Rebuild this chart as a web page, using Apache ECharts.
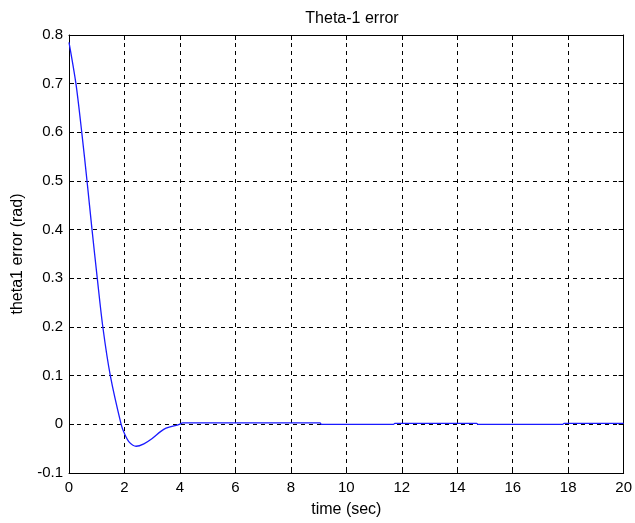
<!DOCTYPE html>
<html>
<head>
<meta charset="utf-8">
<script src="https://cdn.jsdelivr.net/npm/echarts@6/dist/echarts.min.js"></script>
<style>
  html, body { margin: 0; padding: 0; background: #fff; }
  #main { width: 635px; height: 523px; }
</style>
</head>
<body>
<div id="main"></div>
<script>
// time (sec) and theta1 error (rad)
const timeSec = [0, 0.25, 0.46, 0.65, 0.83, 1.02, 1.22, 1.49, 1.88, 2.0, 2.18, 2.42, 2.7, 3.0, 3.3, 3.5, 3.98, 4.1, 9.05, 9.1, 11.7, 11.75, 14.7, 14.75, 17.8, 17.85, 20]
const thetaErr = [0.785, 0.7, 0.6, 0.5, 0.4, 0.3, 0.2, 0.1, 0, -0.019, -0.037, -0.045, -0.04, -0.029, -0.015, -0.008, 0, 0.003, 0.003, 0, 0, 0.002, 0.002, 0, 0, 0.002, 0.002]
const xTicks = [0, 2, 4, 6, 8, 10, 12, 14, 16, 18, 20]
const yTicks = [-0.1, 0, 0.1, 0.2, 0.3, 0.4, 0.5, 0.6, 0.7, 0.8]

const font = 'Liberation Sans, Arial, sans-serif'
const myChart = echarts.init(document.getElementById('main'))

const points = timeSec.map((t, i) => [t, thetaErr[i]])

// frame axes (top/right) with inward ticks only
const mirrorX = {
  type: 'value', min: 0, max: 20, interval: 2, position: 'top',
  axisLine: { show: true, onZero: false, lineStyle: { color: '#000', width: 1 } },
  axisTick: { show: true, inside: true, length: 5, lineStyle: { color: '#000' } },
  axisLabel: { show: false }, splitLine: { show: false }
}
const mirrorY = {
  type: 'value', min: -0.1, max: 0.8, interval: 0.1, position: 'right',
  axisLine: { show: true, onZero: false, lineStyle: { color: '#000', width: 1 } },
  axisTick: { show: true, inside: true, length: 5, lineStyle: { color: '#000' } },
  axisLabel: { show: false }, splitLine: { show: false }
}

const option = {
  backgroundColor: '#fff',
  animation: false,
  title: {
    text: 'Theta-1 error',
    left: 347, top: 6, textAlign: 'center',
    textStyle: { fontFamily: font, fontSize: 16, fontWeight: 'normal', color: '#000' }
  },
  grid: { left: 69, right: 9, top: 35, bottom: 48 },
  xAxis: [{
    type: 'value', min: 0, max: 20, interval: 2,
    name: 'time (sec)', nameLocation: 'middle', nameGap: 29,
    nameTextStyle: { fontFamily: font, fontSize: 16, color: '#000' },
    axisLine: { show: true, onZero: false, lineStyle: { color: '#000', width: 1 } },
    axisTick: { show: true, inside: true, length: 5, lineStyle: { color: '#000' } },
    axisLabel: {
      fontFamily: font, fontSize: 15, color: '#000', margin: 7,
      formatter: v => xTicks.includes(v) ? String(v) : ''
    },
    splitLine: { show: true, lineStyle: { color: '#000', type: [4, 4], width: 1 } }
  }, mirrorX],
  yAxis: [{
    type: 'value', min: -0.1, max: 0.8, interval: 0.1,
    name: 'theta1 error (rad)', nameLocation: 'middle', nameGap: 43,
    nameTextStyle: { fontFamily: font, fontSize: 16, color: '#000' },
    axisLine: { show: true, onZero: false, lineStyle: { color: '#000', width: 1 } },
    axisTick: { show: true, inside: true, length: 5, lineStyle: { color: '#000' } },
    axisLabel: {
      fontFamily: font, fontSize: 15, color: '#000', margin: 6,
      formatter: v => {
        const r = Math.round(v * 10) / 10
        return yTicks.includes(r) ? String(r) : ''
      }
    },
    splitLine: { show: true, lineStyle: { color: '#000', type: [4, 4], width: 1 } }
  }, mirrorY],
  series: [{
    type: 'line',
    data: points,
    showSymbol: false,
    smooth: 0.3,
    lineStyle: { color: '#1a1aff', width: 1.3 },
    clip: true
  }]
}
myChart.setOption(option)
</script>
</body>
</html>
